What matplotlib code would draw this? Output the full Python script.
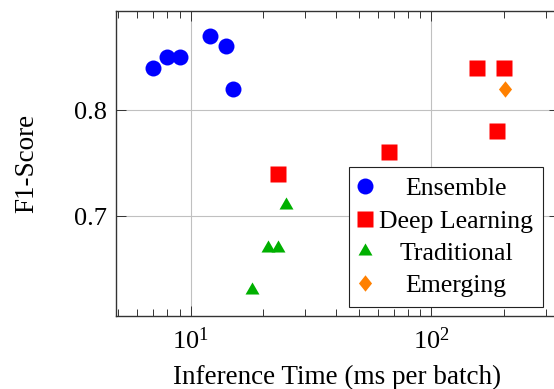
import matplotlib
matplotlib.use("Agg")
import matplotlib.pyplot as plt
import numpy as np
from matplotlib.ticker import LogLocator, FixedLocator, NullLocator, FormatStrFormatter

plt.rcParams['font.family'] = ['Liberation Serif', 'DejaVu Serif']
plt.rcParams['mathtext.fontset'] = 'custom'
plt.rcParams['mathtext.rm'] = 'Liberation Serif'
plt.rcParams['mathtext.it'] = 'Liberation Serif:italic'

# Data
ens_x = [7, 8, 9, 12, 14, 15]
ens_y = [0.84, 0.85, 0.85, 0.87, 0.86, 0.82]
dl_x = [23, 67, 155, 200, 187]
dl_y = [0.74, 0.76, 0.84, 0.84, 0.78]
trad_x = [18, 21, 23, 25]
trad_y = [0.63, 0.67, 0.67, 0.71]
emg_x = [202]
emg_y = [0.82]
labels = ["Ensemble", "Deep Learning", "Traditional", "Emerging"]
y_ticks = [0.7, 0.8]

FS_TICK = 19
FS_LABEL = 19.5
FS_LEG = 18.5

W, H = 554, 389
fig = plt.figure(figsize=(W / 100, H / 100), dpi=100)
L, R, T, B = 116, 559, 11, 316
ax = fig.add_axes([L / W, (H - B) / H, (R - L) / W, (B - T) / H])

tri = [(-1.0, -0.577), (1.0, -0.577), (0.0, 1.155)]
dia = [(0, 1), (0.8, 0), (0, -1), (-0.8, 0)]

ax.plot(ens_x, ens_y, 'o', ms=11.5, color='#0000ff', mec='none', label=labels[0], zorder=3)
ax.plot(dl_x, dl_y, 's', ms=12, color='#ff0000', mec='none', label=labels[1], zorder=3)
ax.plot(trad_x, trad_y, marker=tri, ls='none', ms=11.6, color='#00b000', mec='none', label=labels[2], zorder=3)
ax.plot(emg_x, emg_y, marker=dia, ls='none', ms=11.8, color='#ff8000', mec='none', label=labels[3], zorder=3)

ax.set_xscale('log')
ax.set_xlim(10 ** 0.6895, 10 ** 2.531)
ax.set_ylim(0.6057, 0.8934)

ax.xaxis.set_major_locator(LogLocator(base=10, numticks=10))
ax.xaxis.set_minor_locator(LogLocator(base=10, subs=np.arange(2, 10), numticks=20))
ax.yaxis.set_major_locator(FixedLocator(y_ticks))
ax.yaxis.set_minor_locator(NullLocator())
ax.yaxis.set_major_formatter(FormatStrFormatter('%.1f'))

ax.grid(True, which='major', color='#c0c0c0', lw=0.8, zorder=0)
ax.set_axisbelow(True)

for s in ax.spines.values():
    s.set_color('#333333')
    s.set_linewidth(1.0)
ax.spines['right'].set_visible(False)

ax.tick_params(which='both', direction='in', top=True, right=True, colors='#333333',
               labelcolor='black', labelsize=FS_TICK)
ax.tick_params(which='major', length=7.2, width=0.7)
ax.tick_params(which='minor', length=4.8, width=0.7)
ax.tick_params(axis='y', pad=6.3)
ax.tick_params(axis='x', pad=8.5)

ax.set_xlabel('Inference Time (ms per batch)', fontsize=FS_LABEL)
ax.set_ylabel('F1-Score', fontsize=FS_LABEL)
ax.xaxis.set_label_coords(0.5, (B - 365) / (B - T))
ax.yaxis.set_label_coords((39 - L) / (R - L), 0.5)

leg = ax.legend(loc='lower left', bbox_to_anchor=((349 - L) / (R - L), (B - 307) / (B - T)),
                borderaxespad=0, fontsize=FS_LEG, frameon=True, fancybox=False,
                edgecolor='#222222', framealpha=1, handlelength=0.47, handletextpad=0.31,
                borderpad=0.39, labelspacing=0.36, numpoints=1)
leg.get_frame().set_linewidth(0.8)

fig.canvas.draw()
texts = leg.get_texts()
widths = [t.get_window_extent().width for t in texts]
mw = max(widths)
for t, w in zip(texts, widths):
    t.set_x((mw - w) / 2)

fig.savefig('out.png', dpi=100)
